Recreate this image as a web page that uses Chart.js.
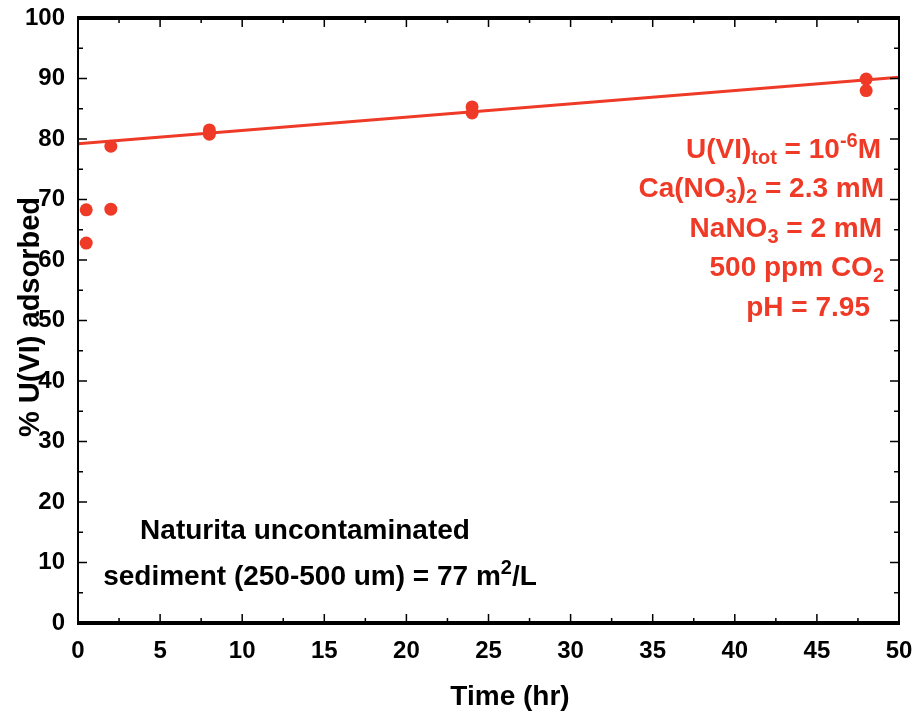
<!DOCTYPE html>
<html>
<head>
<meta charset="utf-8">
<script src="https://cdn.jsdelivr.net/npm/chart.js@4.4.1/dist/chart.umd.min.js"></script>
<style>
  html, body { margin: 0; padding: 0; background: #fff; }
  #wrap { width: 915px; height: 716px; }
</style>
</head>
<body>
<div id="wrap"><canvas id="myChart" width="915" height="716"></canvas></div>
<script>
const RED = '#ee3a26';
const FONT = '"Liberation Sans", Arial, sans-serif';

// measured adsorption, replicate samples per time
const timeHr = [0.5, 0.5, 2, 2, 8, 8, 24, 24, 48, 48];
const adsorbed = [68.3, 62.8, 78.8, 68.4, 81.5, 80.8, 85.3, 84.3, 89.9, 88.0];

// linear fit through the later points
const fitTime = [0, 50];
const fitValue = [79.2, 90.2];

const xTicks = [0, 5, 10, 15, 20, 25, 30, 35, 40, 45, 50];
const yTicks = [0, 10, 20, 30, 40, 50, 60, 70, 80, 90, 100];

// draws a run of text pieces, some shifted up/down as super/subscripts
function drawRich(ctx, parts, x, y, align) {
  let total = 0;
  parts.forEach(p => {
    ctx.font = 'bold ' + p.size + 'px ' + FONT;
    p.w = ctx.measureText(p.t).width;
    total += p.w;
  });
  let cx = align === 'right' ? x - total : (align === 'center' ? x - total / 2 : x);
  parts.forEach(p => {
    ctx.font = 'bold ' + p.size + 'px ' + FONT;
    ctx.textAlign = 'left';
    ctx.fillText(p.t, cx, y + (p.dy || 0));
    cx += p.w;
  });
}

const framePlugin = {
  id: 'frame',
  afterDatasetsDraw(chart) {
    const ctx = chart.ctx;
    const a = chart.chartArea;
    const xs = chart.scales.x;
    const ys = chart.scales.y;
    ctx.save();
    ctx.strokeStyle = '#000';

    // ticks inward, minor between majors
    ctx.lineWidth = 1.5;
    for (let v = 0; v <= 50; v += 2.5) {
      const px = xs.getPixelForValue(v);
      const len = v % 5 === 0 ? 9 : 5;
      ctx.beginPath();
      ctx.moveTo(px, a.bottom); ctx.lineTo(px, a.bottom - len);
      ctx.moveTo(px, a.top); ctx.lineTo(px, a.top + len);
      ctx.stroke();
    }
    for (let v = 0; v <= 100; v += 5) {
      const py = ys.getPixelForValue(v);
      const len = v % 10 === 0 ? 9 : 5;
      ctx.beginPath();
      ctx.moveTo(a.left, py); ctx.lineTo(a.left + len, py);
      ctx.moveTo(a.right, py); ctx.lineTo(a.right - len, py);
      ctx.stroke();
    }

    // box: heavy top and bottom, lighter sides
    ctx.lineWidth = 2;
    ctx.beginPath();
    ctx.moveTo(a.left, a.top); ctx.lineTo(a.left, a.bottom);
    ctx.moveTo(a.right, a.top); ctx.lineTo(a.right, a.bottom);
    ctx.stroke();
    ctx.lineWidth = 4;
    ctx.beginPath();
    ctx.moveTo(a.left - 1, a.top); ctx.lineTo(a.right + 1, a.top);
    ctx.moveTo(a.left - 1, a.bottom); ctx.lineTo(a.right + 1, a.bottom);
    ctx.stroke();

    ctx.textBaseline = 'middle';

    // conditions
    ctx.fillStyle = RED;
    const S = 28, s = 20;
    drawRich(ctx, [{t: 'U(VI)', size: S}, {t: 'tot', size: s, dy: 8}, {t: ' = 10', size: S}, {t: '-6', size: s, dy: -9}, {t: 'M', size: S}], 881, 150, 'right');
    drawRich(ctx, [{t: 'Ca(NO', size: S}, {t: '3', size: s, dy: 8}, {t: ')', size: S}, {t: '2', size: s, dy: 8}, {t: ' = 2.3 mM', size: S}], 884, 189, 'right');
    drawRich(ctx, [{t: 'NaNO', size: S}, {t: '3', size: s, dy: 8}, {t: ' = 2 mM', size: S}], 882, 229, 'right');
    drawRich(ctx, [{t: '500 ppm CO', size: S}, {t: '2', size: s, dy: 8}], 884, 268, 'right');
    drawRich(ctx, [{t: 'pH = 7.95', size: S}], 870, 308, 'right');

    // sediment note
    ctx.fillStyle = '#000';
    drawRich(ctx, [{t: 'Naturita uncontaminated', size: S}], 305, 531, 'center');
    drawRich(ctx, [{t: 'sediment (250-500 um) = 77 m', size: S}, {t: '2', size: s, dy: -9}, {t: '/L', size: S}], 320, 577, 'center');

    // axis titles
    drawRich(ctx, [{t: 'Time (hr)', size: S}], 510, 697, 'center');
    ctx.translate(31, 317);
    ctx.rotate(-Math.PI / 2);
    drawRich(ctx, [{t: '% U(VI) adsorbed', size: 29}], 0, 0, 'center');
    ctx.restore();
  }
};

function noOverhang(scale) {
  scale.paddingLeft = 0;
  scale.paddingRight = 0;
  scale.paddingTop = 0;
  scale.paddingBottom = 0;
}

const ctx = document.querySelector('#myChart').getContext('2d');

new Chart(ctx, {
  type: 'scatter',
  data: {
    datasets: [{
      label: 'fit',
      type: 'line',
      data: fitTime.map((t, i) => ({x: t, y: fitValue[i]})),
      borderColor: RED,
      borderWidth: 3,
      pointRadius: 0,
      fill: false,
    },
    {
      label: 'measured',
      data: timeHr.map((t, i) => ({x: t, y: adsorbed[i]})),
      backgroundColor: RED,
      borderColor: RED,
      pointRadius: 6.5,
      borderWidth: 0,
    }]
  },
  options: {
    responsive: false,
    animation: false,
    layout: { padding: { top: 18, right: 16, left: 0, bottom: 0 } },
    plugins: {
      legend: { display: false },
      tooltip: { enabled: false },
    },
    scales: {
      x: {
        type: 'linear',
        min: 0,
        max: 50,
        afterFit(scale) { scale.height = 93; noOverhang(scale); },
        afterBuildTicks(scale) { scale.ticks = xTicks.map(v => ({value: v})); },
        grid: { display: false, drawTicks: false },
        border: { display: false },
        ticks: {
          padding: 14,
          color: '#000',
          maxRotation: 0,
          font: { family: FONT, size: 24, weight: 'bold' },
        },
      },
      y: {
        type: 'linear',
        min: 0,
        max: 100,
        afterFit(scale) { scale.width = 78; noOverhang(scale); },
        afterBuildTicks(scale) { scale.ticks = yTicks.map(v => ({value: v})); },
        grid: { display: false, drawTicks: false },
        border: { display: false },
        ticks: {
          padding: 13,
          color: '#000',
          font: { family: FONT, size: 24, weight: 'bold' },
        },
      }
    }
  },
  plugins: [framePlugin],
});
</script>
</body>
</html>
